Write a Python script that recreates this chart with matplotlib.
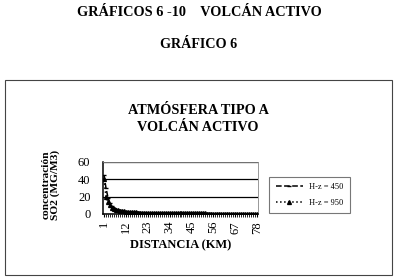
import matplotlib
matplotlib.use("Agg")
import matplotlib.pyplot as plt
from matplotlib.patches import Rectangle

plt.rcParams["font.family"] = ["Liberation Serif", "DejaVu Serif"]

# distancia (km), categorias 1..78
distancia = list(range(1, 79))
tick_labels = ["1", "12", "23", "34", "45", "56", "67", "78"]

h450 = [45, 30, 19, 13, 9.5, 7.5, 6.0, 5.0, 4.3, 3.8,
        3.3, 3.0, 2.7, 2.5, 2.3, 2.1, 2.0, 1.9, 1.8, 1.7,
        1.6, 1.5, 1.45, 1.4, 1.35, 1.3, 1.25, 1.2, 1.15, 1.1,
        1.05, 1.0, 1.0, 0.95, 0.95, 0.9, 0.9, 0.85, 0.85, 0.8,
        0.8, 0.8, 0.75, 0.75, 0.7, 0.7, 0.7, 0.65, 0.65, 0.65,
        0.6, 0.6, 0.6, 0.6, 0.55, 0.55, 0.55, 0.55, 0.5, 0.5,
        0.5, 0.5, 0.5, 0.45, 0.45, 0.45, 0.45, 0.45, 0.4, 0.4,
        0.4, 0.4, 0.4, 0.4, 0.35, 0.35, 0.35, 0.35]

h950 = [40, 20, 14, 10, 7.5, 6.0, 5.0, 4.2, 3.6, 3.2,
        2.9, 2.6, 2.4, 2.2, 2.0, 1.9, 1.8, 1.7, 1.6, 1.5,
        1.45, 1.4, 1.35, 1.3, 1.25, 1.2, 1.15, 1.1, 1.05, 1.0,
        1.0, 0.95, 0.95, 0.9, 0.9, 0.85, 0.85, 0.8, 0.8, 0.8,
        0.75, 0.75, 0.7, 0.7, 0.7, 0.65, 0.65, 0.65, 0.6, 0.6,
        0.6, 0.6, 0.55, 0.55, 0.55, 0.55, 0.5, 0.5, 0.5, 0.5,
        0.5, 0.45, 0.45, 0.45, 0.45, 0.45, 0.4, 0.4, 0.4, 0.4,
        0.4, 0.4, 0.35, 0.35, 0.35, 0.35, 0.35, 0.35]

W, H = 398, 280
fig = plt.figure(figsize=(W / 100, H / 100), dpi=100)
fig.patch.set_facecolor("white")

# outer frame of the scanned page
fig.patches.append(Rectangle((5 / W, 1 - 275 / H), 387 / W, 195 / H,
                             transform=fig.transFigure, fill=False,
                             edgecolor="#444444", linewidth=0.8))

fig.text(199 / W, 1 - 13 / H, "GRÁFICOS 6 -10    VOLCÁN ACTIVO",
         ha="center", va="center", fontsize=10.3, fontweight="bold")
fig.text(199 / W, 1 - 44 / H, "GRÁFICO 6",
         ha="center", va="center", fontsize=10.2, fontweight="bold")
fig.text(198 / W, 1 - 111 / H, "ATMÓSFERA TIPO A",
         ha="center", va="center", fontsize=10.3, fontweight="bold")
fig.text(198 / W, 1 - 128 / H, "VOLCÁN ACTIVO",
         ha="center", va="center", fontsize=10.3, fontweight="bold")
fig.text(51 / W, 1 - 185 / H, "concentración\nSO2 (MG/M3)",
         ha="center", va="center", rotation=90, fontsize=8.2,
         fontweight="bold", linespacing=1.0)

ax = fig.add_axes([103 / W, 1 - 214 / H, 155 / W, 52 / H])
ax.plot(distancia, h450, color="black", linestyle="--", linewidth=1.1,
        marker="_", markersize=3, label="H-z = 450")
ax.plot(distancia, h950, color="black", linestyle=":", linewidth=1.1,
        marker="^", markersize=2.8, label="H-z = 950")

ax.set_xlim(0.5, 78.5)
ax.set_ylim(0, 60)
ax.set_yticks([0, 20, 40, 60])
ax.set_xticks([int(t) for t in tick_labels])
ax.set_xticklabels(tick_labels, rotation=90)
ax.set_xticks(distancia, minor=True)
ax.tick_params(axis="y", length=0, pad=9, labelsize=9)
ax.tick_params(axis="x", which="major", length=2, pad=3, labelsize=9)
ax.tick_params(axis="x", which="minor", length=2)
ax.grid(axis="y", color="black", linewidth=0.9)
ax.set_axisbelow(True)
for side in ["top", "right"]:
    ax.spines[side].set_color("#888888")
    ax.spines[side].set_linewidth(0.6)
ax.spines["left"].set_linewidth(1.1)
ax.spines["bottom"].set_linewidth(1.1)
ax.set_xlabel("DISTANCIA (KM)", fontsize=9, fontweight="bold", labelpad=4)

leg = ax.legend(loc="center left", bbox_to_anchor=(265 / W, 1 - 195 / H),
                bbox_transform=fig.transFigure, fontsize=6, frameon=True,
                fancybox=False, edgecolor="#555555", handlelength=3.2,
                borderpad=0.8, labelspacing=0.9)
leg.get_frame().set_linewidth(0.8)

fig.savefig("out.png", dpi=100)
